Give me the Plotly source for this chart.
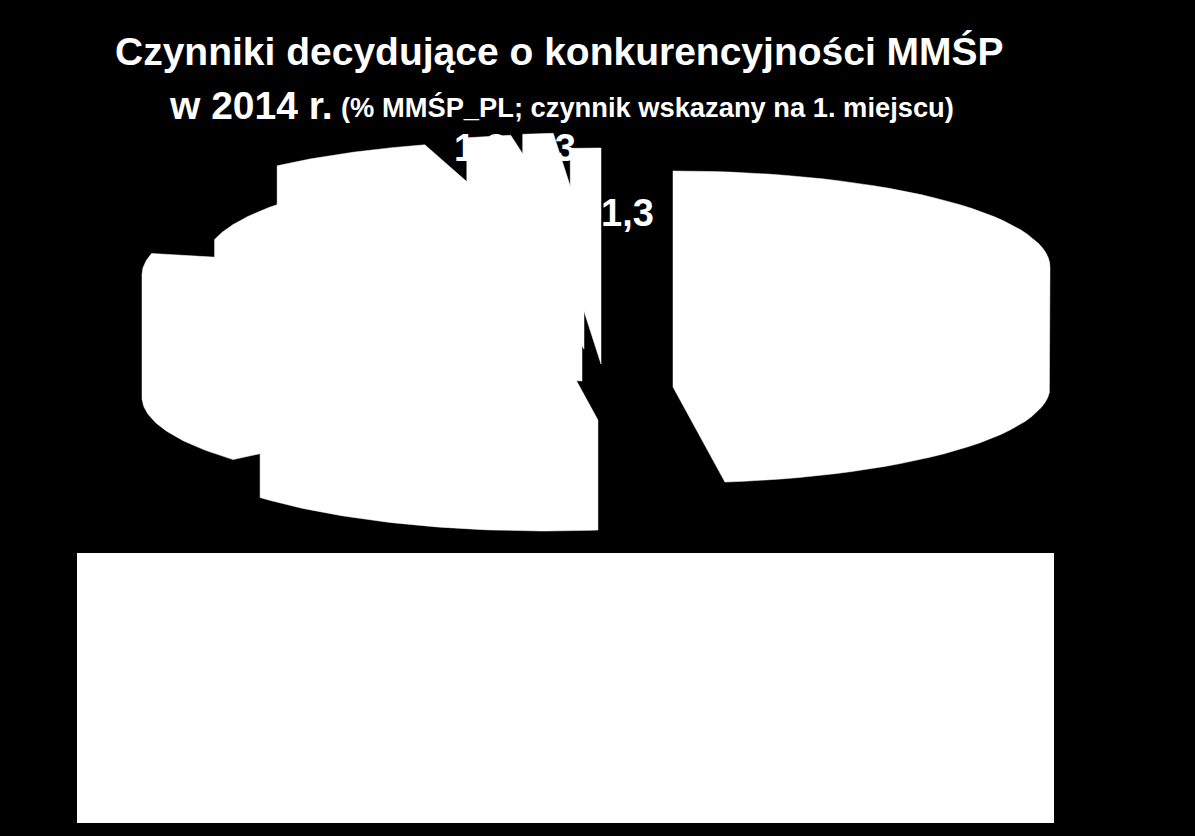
import numpy as np
import plotly.graph_objects as go

# udzial czynnikow, % (opisy legendy sa nieczytelne na obrazku)
slices = ['c1', 'c2', 'c3', 'c4', 'c5', 'c6', 'c7', 'c8']
shares = [47.8, 15.9, 14.9, 9.7, 7.2, 1.9, 1.3, 1.3]
value_labels = ['1,9', '1,3', '1,3']

# wygląd tortu: srodek gornej sciany kazdego wycinka po "wysunieciu" i wysokosc
centers_x = [673, 546, 519, 582, 530, 572, 584, 601]
centers_y = [267, 325, 275, 261, 237, 230, 229, 244]
depths = [120, 110, 122, 120, 120, 120, 120, 120]
RX = 377
RY = 96


def convex_hull(points):
    points = sorted(set(points))

    def half(pts):
        out = []
        for p in pts:
            while len(out) > 1 and ((out[-1][0] - out[-2][0]) * (p[1] - out[-2][1])
                                    - (out[-1][1] - out[-2][1]) * (p[0] - out[-2][0])) <= 0:
                out.pop()
            out.append(p)
        return out[:-1]

    return half(points) + half(points[::-1])


def wedge_outline(start, end, cx, cy, depth):
    angles = np.radians(np.linspace(start, end, 60))
    top = [(cx, cy)] + [(cx + RX * np.sin(a), cy - RY * np.cos(a)) for a in angles]
    bottom = [(x, y + depth) for x, y in top]
    hull = convex_hull(top + bottom)
    hull.append(hull[0])
    return [p[0] for p in hull], [p[1] for p in hull]


fig = go.Figure()

edges = np.cumsum([0] + shares) / sum(shares) * 360
for i, name in enumerate(slices):
    xs, ys = wedge_outline(edges[i], edges[i + 1], centers_x[i], centers_y[i], depths[i])
    fig.add_trace(go.Scatter(x=xs, y=ys, name=name, mode='lines', fill='toself',
                             fillcolor='white', line=dict(color='white', width=0.5),
                             hoverinfo='skip', showlegend=False))

# biala ramka legendy
fig.add_shape(type='rect', x0=77, x1=1054, y0=553, y1=823,
              fillcolor='white', line=dict(width=0), layer='above')


def add_text(text, x, y, size, anchor='center', bold=True):
    fig.add_annotation(x=x, y=y, text=f'<b>{text}</b>' if bold else text, showarrow=False,
                       xanchor=anchor, yanchor='middle',
                       font=dict(family='Liberation Sans', size=size, color='white'))


add_text('Czynniki decydujące o konkurencyjności MMŚP', 559, 51, 39)
add_text('w 2014 r.', 167, 105, 39, anchor='left')
add_text('(% MMŚP_PL; czynnik wskazany na 1. miejscu)', 339, 107, 27.3, anchor='left')

add_text(value_labels[0], 480, 148, 38)
add_text(value_labels[1], 549, 148, 38)
add_text(value_labels[2], 627, 213, 38)

fig.update_xaxes(range=[0, 1195], visible=False, fixedrange=True)
fig.update_yaxes(range=[836, 0], visible=False, fixedrange=True)
fig.update_layout(width=1195, height=836, margin=dict(l=0, r=0, t=0, b=0),
                  paper_bgcolor='black', plot_bgcolor='black', showlegend=False)

fig.write_html("out.html", config=dict(displayModeBar=False),
               post_script="document.body.style.margin='0';document.body.style.background='black';")
